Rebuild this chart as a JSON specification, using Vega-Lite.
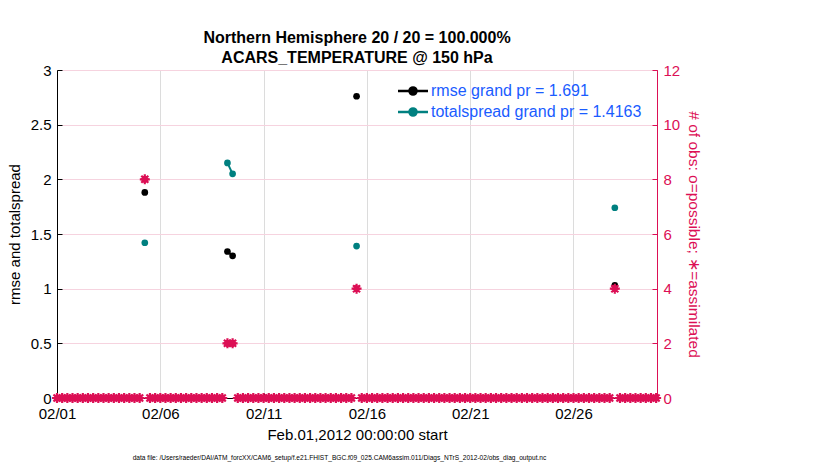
{
  "$schema": "https://vega.github.io/schema/vega-lite/v6.json",
  "width": 600,
  "height": 328,
  "autosize": {"type": "none"},
  "padding": {"left": 57, "top": 70, "right": 173, "bottom": 72},
  "background": "white",
  "config": {
    "font": "Liberation Sans",
    "view": {"stroke": "black", "strokeWidth": 1}
  },
  "title": {
    "text": ["Northern Hemisphere 20 / 20 = 100.000%", "ACARS_TEMPERATURE @ 150 hPa"],
    "fontSize": 16,
    "fontWeight": "bold",
    "font": "Liberation Sans",
    "color": "black",
    "anchor": "middle",
    "lineHeight": 20,
    "offset": -3
  },
  "datasets": {
    "err": [
      {"t": "2012-02-05T06:00", "m": "rmse grand pr = 1.691", "v": 1.88, "seg": 1},
      {"t": "2012-02-05T06:00", "m": "totalspread grand pr = 1.4163", "v": 1.42, "seg": 1},
      {"t": "2012-02-09T06:00", "m": "rmse grand pr = 1.691", "v": 1.34, "seg": 2},
      {"t": "2012-02-09T12:00", "m": "rmse grand pr = 1.691", "v": 1.30, "seg": 2},
      {"t": "2012-02-09T06:00", "m": "totalspread grand pr = 1.4163", "v": 2.15, "seg": 2},
      {"t": "2012-02-09T12:00", "m": "totalspread grand pr = 1.4163", "v": 2.05, "seg": 2},
      {"t": "2012-02-15T12:00", "m": "rmse grand pr = 1.691", "v": 2.76, "seg": 3},
      {"t": "2012-02-15T12:00", "m": "totalspread grand pr = 1.4163", "v": 1.39, "seg": 3},
      {"t": "2012-02-28T00:00", "m": "rmse grand pr = 1.691", "v": 1.03, "seg": 4},
      {"t": "2012-02-28T00:00", "m": "totalspread grand pr = 1.4163", "v": 1.74, "seg": 4}
    ],
    "obs": [
      {"t": "2012-02-01T00:00", "n": 0}, {"t": "2012-02-01T06:00", "n": 0}, {"t": "2012-02-01T12:00", "n": 0}, {"t": "2012-02-01T18:00", "n": 0},
      {"t": "2012-02-02T00:00", "n": 0}, {"t": "2012-02-02T06:00", "n": 0}, {"t": "2012-02-02T12:00", "n": 0}, {"t": "2012-02-02T18:00", "n": 0},
      {"t": "2012-02-03T00:00", "n": 0}, {"t": "2012-02-03T06:00", "n": 0}, {"t": "2012-02-03T12:00", "n": 0}, {"t": "2012-02-03T18:00", "n": 0},
      {"t": "2012-02-04T00:00", "n": 0}, {"t": "2012-02-04T06:00", "n": 0}, {"t": "2012-02-04T12:00", "n": 0}, {"t": "2012-02-04T18:00", "n": 0},
      {"t": "2012-02-05T00:00", "n": 0}, {"t": "2012-02-05T06:00", "n": 8}, {"t": "2012-02-05T12:00", "n": 0}, {"t": "2012-02-05T18:00", "n": 0},
      {"t": "2012-02-06T00:00", "n": 0}, {"t": "2012-02-06T06:00", "n": 0}, {"t": "2012-02-06T12:00", "n": 0}, {"t": "2012-02-06T18:00", "n": 0},
      {"t": "2012-02-07T00:00", "n": 0}, {"t": "2012-02-07T06:00", "n": 0}, {"t": "2012-02-07T12:00", "n": 0}, {"t": "2012-02-07T18:00", "n": 0},
      {"t": "2012-02-08T00:00", "n": 0}, {"t": "2012-02-08T06:00", "n": 0}, {"t": "2012-02-08T12:00", "n": 0}, {"t": "2012-02-08T18:00", "n": 0},
      {"t": "2012-02-09T00:00", "n": 0}, {"t": "2012-02-09T06:00", "n": 2}, {"t": "2012-02-09T12:00", "n": 2}, {"t": "2012-02-09T18:00", "n": 0},
      {"t": "2012-02-10T00:00", "n": 0}, {"t": "2012-02-10T06:00", "n": 0}, {"t": "2012-02-10T12:00", "n": 0}, {"t": "2012-02-10T18:00", "n": 0},
      {"t": "2012-02-11T00:00", "n": 0}, {"t": "2012-02-11T06:00", "n": 0}, {"t": "2012-02-11T12:00", "n": 0}, {"t": "2012-02-11T18:00", "n": 0},
      {"t": "2012-02-12T00:00", "n": 0}, {"t": "2012-02-12T06:00", "n": 0}, {"t": "2012-02-12T12:00", "n": 0}, {"t": "2012-02-12T18:00", "n": 0},
      {"t": "2012-02-13T00:00", "n": 0}, {"t": "2012-02-13T06:00", "n": 0}, {"t": "2012-02-13T12:00", "n": 0}, {"t": "2012-02-13T18:00", "n": 0},
      {"t": "2012-02-14T00:00", "n": 0}, {"t": "2012-02-14T06:00", "n": 0}, {"t": "2012-02-14T12:00", "n": 0}, {"t": "2012-02-14T18:00", "n": 0},
      {"t": "2012-02-15T00:00", "n": 0}, {"t": "2012-02-15T06:00", "n": 0}, {"t": "2012-02-15T12:00", "n": 4}, {"t": "2012-02-15T18:00", "n": 0},
      {"t": "2012-02-16T00:00", "n": 0}, {"t": "2012-02-16T06:00", "n": 0}, {"t": "2012-02-16T12:00", "n": 0}, {"t": "2012-02-16T18:00", "n": 0},
      {"t": "2012-02-17T00:00", "n": 0}, {"t": "2012-02-17T06:00", "n": 0}, {"t": "2012-02-17T12:00", "n": 0}, {"t": "2012-02-17T18:00", "n": 0},
      {"t": "2012-02-18T00:00", "n": 0}, {"t": "2012-02-18T06:00", "n": 0}, {"t": "2012-02-18T12:00", "n": 0}, {"t": "2012-02-18T18:00", "n": 0},
      {"t": "2012-02-19T00:00", "n": 0}, {"t": "2012-02-19T06:00", "n": 0}, {"t": "2012-02-19T12:00", "n": 0}, {"t": "2012-02-19T18:00", "n": 0},
      {"t": "2012-02-20T00:00", "n": 0}, {"t": "2012-02-20T06:00", "n": 0}, {"t": "2012-02-20T12:00", "n": 0}, {"t": "2012-02-20T18:00", "n": 0},
      {"t": "2012-02-21T00:00", "n": 0}, {"t": "2012-02-21T06:00", "n": 0}, {"t": "2012-02-21T12:00", "n": 0}, {"t": "2012-02-21T18:00", "n": 0},
      {"t": "2012-02-22T00:00", "n": 0}, {"t": "2012-02-22T06:00", "n": 0}, {"t": "2012-02-22T12:00", "n": 0}, {"t": "2012-02-22T18:00", "n": 0},
      {"t": "2012-02-23T00:00", "n": 0}, {"t": "2012-02-23T06:00", "n": 0}, {"t": "2012-02-23T12:00", "n": 0}, {"t": "2012-02-23T18:00", "n": 0},
      {"t": "2012-02-24T00:00", "n": 0}, {"t": "2012-02-24T06:00", "n": 0}, {"t": "2012-02-24T12:00", "n": 0}, {"t": "2012-02-24T18:00", "n": 0},
      {"t": "2012-02-25T00:00", "n": 0}, {"t": "2012-02-25T06:00", "n": 0}, {"t": "2012-02-25T12:00", "n": 0}, {"t": "2012-02-25T18:00", "n": 0},
      {"t": "2012-02-26T00:00", "n": 0}, {"t": "2012-02-26T06:00", "n": 0}, {"t": "2012-02-26T12:00", "n": 0}, {"t": "2012-02-26T18:00", "n": 0},
      {"t": "2012-02-27T00:00", "n": 0}, {"t": "2012-02-27T06:00", "n": 0}, {"t": "2012-02-27T12:00", "n": 0}, {"t": "2012-02-27T18:00", "n": 0},
      {"t": "2012-02-28T00:00", "n": 4}, {"t": "2012-02-28T06:00", "n": 0}, {"t": "2012-02-28T12:00", "n": 0}, {"t": "2012-02-28T18:00", "n": 0},
      {"t": "2012-02-29T00:00", "n": 0}, {"t": "2012-02-29T06:00", "n": 0}, {"t": "2012-02-29T12:00", "n": 0}, {"t": "2012-02-29T18:00", "n": 0},
      {"t": "2012-03-01T00:00", "n": 0}
    ]
  },
  "layer": [
    {
      "data": {"name": "err"},
      "encoding": {
        "x": {
          "field": "t",
          "type": "temporal",
          "scale": {"domain": [{"year": 2012, "month": 2, "date": 1}, {"year": 2012, "month": 3, "date": 1, "hours": 1}]},
          "axis": {
            "orient": "bottom",
            "values": [
              {"year": 2012, "month": 2, "date": 1},
              {"year": 2012, "month": 2, "date": 6},
              {"year": 2012, "month": 2, "date": 11},
              {"year": 2012, "month": 2, "date": 16},
              {"year": 2012, "month": 2, "date": 21},
              {"year": 2012, "month": 2, "date": 26}
            ],
            "format": "%m/%d",
            "labelFlush": false,
            "labelFontSize": 15,
            "labelColor": "black",
            "labelPadding": 13,
            "tickSize": -5,
            "tickColor": "black",
            "domainColor": "black",
            "grid": true,
            "gridColor": "#dcdcdc",
            "title": "Feb.01,2012 00:00:00 start",
            "titleFontSize": 15,
            "titleFontWeight": "normal",
            "titleColor": "black",
            "titlePadding": 6
          }
        },
        "y": {
          "field": "v",
          "type": "quantitative",
          "scale": {"domain": [0, 3]},
          "axis": {
            "orient": "left",
            "values": [0, 0.5, 1, 1.5, 2, 2.5, 3],
            "format": "~g",
            "grid": false,
            "labelFontSize": 15,
            "labelColor": "black",
            "labelPadding": 11,
            "tickSize": -5,
            "tickColor": "black",
            "domainColor": "black",
            "title": "rmse and totalspread",
            "titleFontSize": 15,
            "titleFontWeight": "normal",
            "titleColor": "black",
            "titlePadding": 8
          }
        },
        "color": {
          "field": "m",
          "type": "nominal",
          "scale": {"domain": ["rmse grand pr = 1.691", "totalspread grand pr = 1.4163"], "range": ["#000000", "#008080"]},
          "legend": {
            "orient": "none",
            "legendX": 347,
            "legendY": 12,
            "title": null,
            "labelFontSize": 16,
            "labelColor": "#1a5cff",
            "labelLimit": 400,
            "labelOffset": 9,
            "rowPadding": 3,
            "symbolType": "M-2,0H2M0.47,0A0.47,0.47,0,1,1,-0.47,0A0.47,0.47,0,1,1,0.47,0",
            "symbolSize": 225,
            "symbolStrokeWidth": 2.5,
            "symbolOpacity": 1,
            "encode": {"symbols": {"update": {"fill": {"scale": "color", "field": "value"}, "stroke": {"scale": "color", "field": "value"}}}}
          }
        },
        "detail": {"field": "seg", "type": "nominal"}
      },
      "layer": [
        {"mark": {"type": "line", "strokeWidth": 2}},
        {"mark": {"type": "point", "filled": true, "size": 45, "opacity": 1, "shape": "circle"}}
      ]
    },
    {
      "data": {"name": "obs"},
      "mark": {
        "type": "point",
        "opacity": 1,
        "shape": "M-1,0L1,0M0,-1L0,1M-0.7,-0.7L0.7,0.7M-0.7,0.7L0.7,-0.7M0,-0.65L0.65,0L0,0.65L-0.65,0Z",
        "size": 100,
        "strokeWidth": 2.2,
        "fill": "#dc0f55",
        "stroke": "#dc0f55",
        "clip": false
      },
      "encoding": {
        "x": {
          "field": "t",
          "type": "temporal",
          "axis": {
            "orient": "bottom",
            "labels": false,
            "ticks": false,
            "domain": false,
            "grid": false,
            "title": "data file: /Users/raeder/DAI/ATM_forcXX/CAM6_setup/f.e21.FHIST_BGC.f09_025.CAM6assim.011/Diags_NTrS_2012-02/obs_diag_output.nc",
            "titleFontSize": 6.6,
            "titleFontWeight": "normal",
            "titleColor": "black",
            "titleX": 282,
            "titleY": 59,
            "titleBaseline": "middle"
          }
        },
        "y": {
          "field": "n",
          "type": "quantitative",
          "scale": {"domain": [0, 12]},
          "axis": {
            "orient": "right",
            "values": [0, 2, 4, 6, 8, 10, 12],
            "grid": true,
            "gridColor": "#f6d3df",
            "labelFontSize": 15,
            "labelColor": "#dc0f55",
            "labelPadding": 11,
            "tickSize": -5,
            "tickColor": "#dc0f55",
            "domainColor": "#dc0f55",
            "title": "# of obs: o=possible; ∗=assimilated",
            "titleFontSize": 15.5,
            "titleFontWeight": "normal",
            "titleColor": "#dc0f55",
            "titlePadding": 6
          }
        }
      }
    }
  ],
  "resolve": {"scale": {"y": "independent"}, "axis": {"x": "independent"}}
}
